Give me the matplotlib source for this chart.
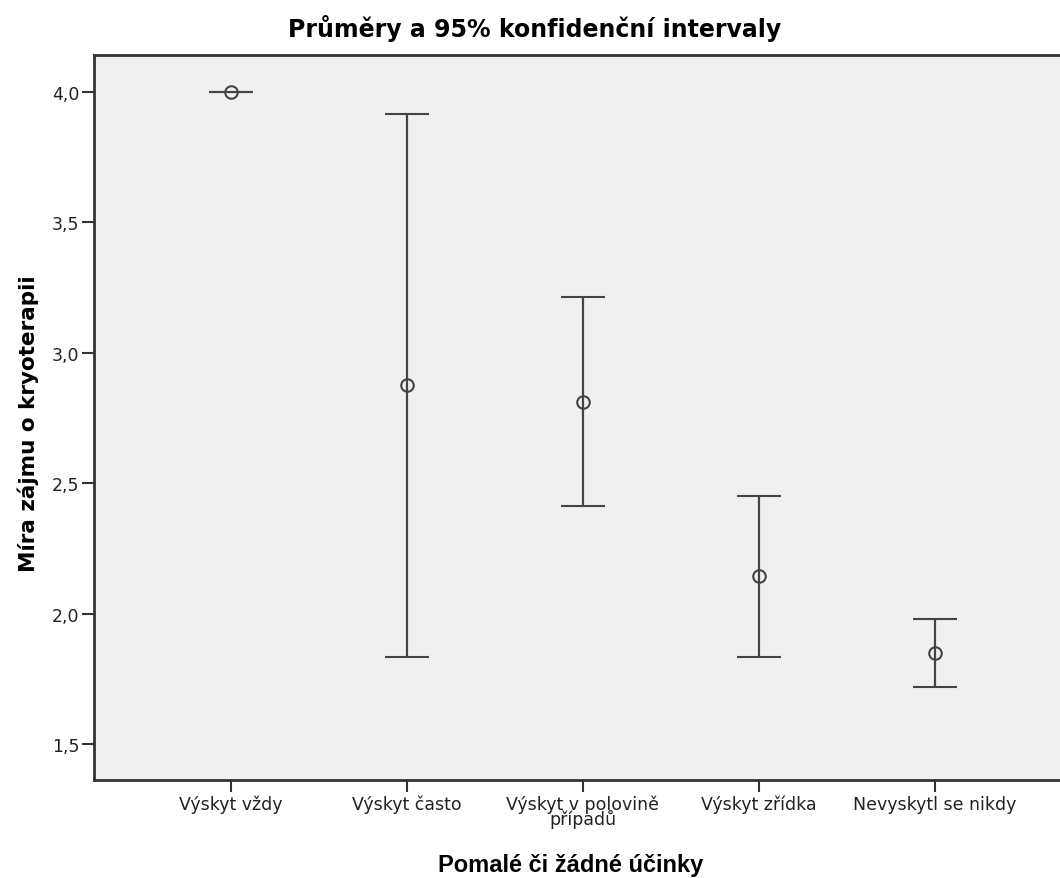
from matplotlib import pyplot as plt

plt.rcParams["font.family"] = ["DejaVu Sans"]

# Data
categories = ["Výskyt vždy", "Výskyt často", "Výskyt v polovině\npřípadů",
              "Výskyt zřídka", "Nevyskytl se nikdy"]
means = [4.0, 2.877, 2.811, 2.144, 1.849]
ci_low = [4.0, 1.834, 2.413, 1.834, 1.719]
ci_high = [4.0, 3.916, 3.214, 2.451, 1.979]
yticks = [1.5, 2.0, 2.5, 3.0, 3.5, 4.0]
ytick_labels = ["1,5", "2,0", "2,5", "3,0", "3,5", "4,0"]

x = list(range(len(categories)))
err_low = [m - lo for m, lo in zip(means, ci_low)]
err_high = [hi - m for m, hi in zip(means, ci_high)]

fig = plt.figure(figsize=(10.6, 8.79), dpi=100)
ax = fig.add_axes([94 / 1060, 1 - 781 / 879, 1 - 94 / 1060, (781 - 56) / 879])
ax.set_facecolor("#f0f0f0")

ax.errorbar(x, means, yerr=[err_low, err_high], fmt="o", color="#444444",
            ecolor="#444444", elinewidth=1.6, capsize=16, capthick=1.6,
            markersize=9, markerfacecolor="none", markeredgewidth=1.5)

ax.set_xlim(-0.778, 4.71)
ax.set_ylim(1.362, 4.142)
ax.set_xticks(x)
ax.set_xticklabels(categories, fontsize=12.5, linespacing=0.75, color="#222222")
ax.set_yticks(yticks)
ax.set_yticklabels(ytick_labels, fontsize=12.5, color="#222222")
ax.tick_params(axis="both", length=8.5, width=1.5, color="#333333", pad=2)

for side in ["left", "bottom", "top"]:
    ax.spines[side].set_linewidth(2)
    ax.spines[side].set_color("#333333")
ax.spines["right"].set_visible(False)

fig.text(535 / 1060, 1 - 37 / 879, "Průměry a 95% konfidenční intervaly",
         ha="center", va="baseline", fontsize=17, fontweight="bold")
fig.text(571 / 1060, 1 - 872 / 879, "Pomalé či žádné účinky",
         ha="center", va="baseline", fontsize=17, fontweight="bold",
         family="Liberation Sans")
fig.text(28 / 1060, 1 - 424 / 879, "Míra zájmu o kryoterapii",
         ha="center", va="center", rotation=90, fontsize=15.5, fontweight="bold")

fig.savefig("out.png", dpi=100)
